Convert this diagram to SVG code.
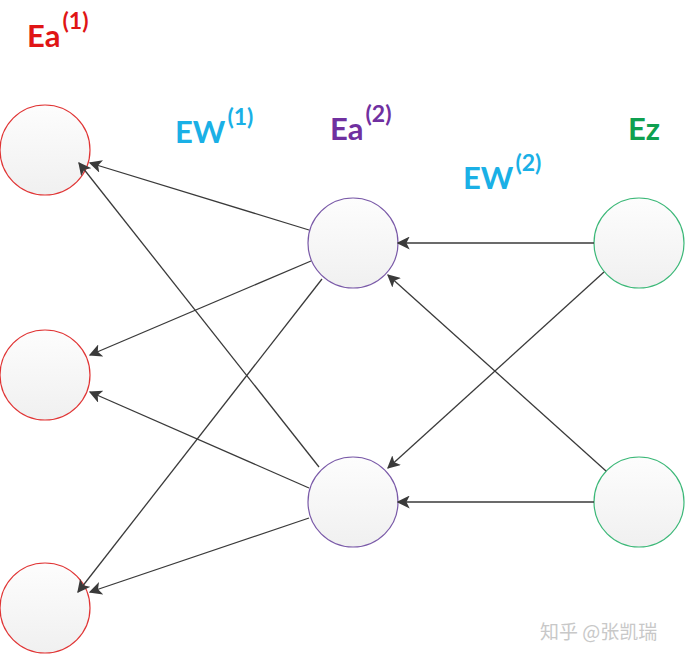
<svg xmlns="http://www.w3.org/2000/svg" width="686" height="659" viewBox="0 0 686 659">
<style>
.n{stroke-width:1.2}
.red{stroke:#e03535}
.pur{stroke:#7a5aa8}
.grn{stroke:#3cb878}
.lbl{font-family:Lato,"Open Sans","Liberation Sans",sans-serif;font-weight:bold;font-size:31px}
.sup{font-size:23px}
.c line{stroke:#3a3a3a;stroke-width:1.3;marker-end:url(#ah)}
</style>
<defs>
<linearGradient id="g" x1="0" y1="0" x2="0" y2="1">
<stop offset="0" stop-color="#fdfdfd"/>
<stop offset="1" stop-color="#f0f0f0"/>
</linearGradient>
<marker id="ah" viewBox="0 0 10 10" refX="9" refY="5" markerWidth="13" markerHeight="13" markerUnits="userSpaceOnUse" orient="auto">
<path d="M0,0 L10,5 L0,10 L2.5,5 Z" fill="#3a3a3a"/>
</marker>
</defs>
<rect width="686" height="659" fill="#fff"/>
<g id="L1"><circle class="n red" cx="45" cy="150" r="45" fill="url(#g)"/></g>
<g id="L2"><circle class="n red" cx="45" cy="375" r="45" fill="url(#g)"/></g>
<g id="L3"><circle class="n red" cx="45" cy="608" r="45" fill="url(#g)"/></g>
<g id="M1"><circle class="n pur" cx="353" cy="243" r="45" fill="url(#g)"/></g>
<g id="M2"><circle class="n pur" cx="353" cy="502" r="45" fill="url(#g)"/></g>
<g id="R1"><circle class="n grn" cx="639" cy="243" r="45" fill="url(#g)"/></g>
<g id="R2"><circle class="n grn" cx="639" cy="502" r="45" fill="url(#g)"/></g>
<g class="c">
<line x1="309" y1="230" x2="90" y2="163"/>
<line x1="311" y1="261" x2="90" y2="355"/>
<line x1="322" y1="279" x2="78" y2="592"/>
<line x1="319" y1="467" x2="79" y2="163"/>
<line x1="309" y1="488" x2="90" y2="392"/>
<line x1="309" y1="518" x2="90" y2="592"/>
<line x1="594" y1="243" x2="398" y2="243"/>
<line x1="604" y1="272" x2="388" y2="468"/>
<line x1="606" y1="471" x2="388" y2="275"/>
<line x1="594" y1="502" x2="398" y2="502"/>
</g>
<g id="labels" class="lbl">
<text x="27" y="47" fill="#e01515">Ea<tspan class="sup" dx="2" dy="-18">(1)</tspan></text>
<text x="175" y="143" fill="#1ab0e6">EW<tspan class="sup" dx="2" dy="-18">(1)</tspan></text>
<text x="330" y="140" fill="#7030a0">Ea<tspan class="sup" dx="2" dy="-18">(2)</tspan></text>
<text x="463" y="189" fill="#1ab0e6">EW<tspan class="sup" dx="2" dy="-18">(2)</tspan></text>
<text x="628" y="140" fill="#0fa050">Ez</text>
</g>
<text x="540" y="639" font-family="'Noto Sans CJK SC',sans-serif" font-size="19" fill="#c8c8c8">知乎 @张凯瑞</text>
</svg>
